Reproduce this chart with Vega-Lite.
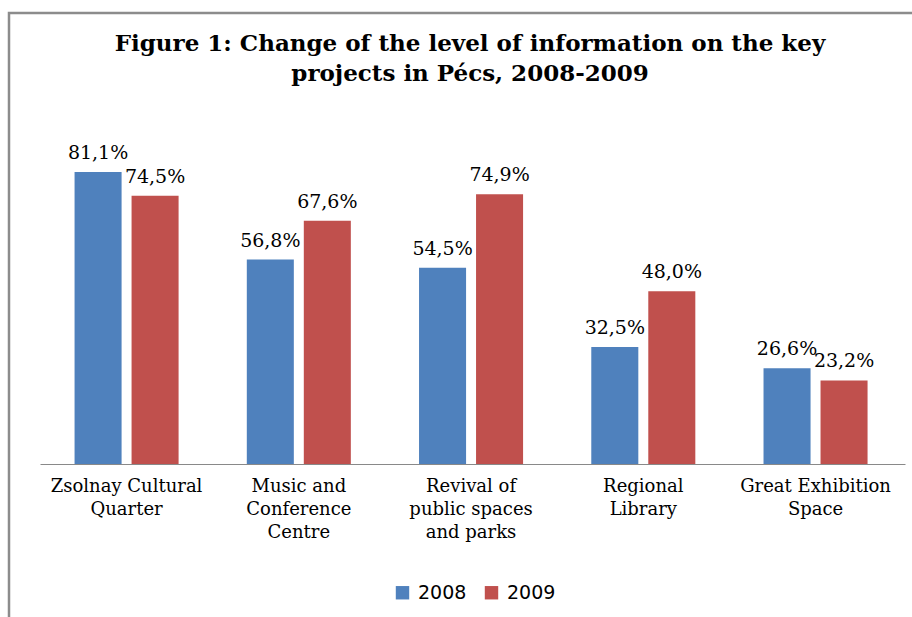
{
  "$schema": "https://vega.github.io/schema/vega-lite/v6.json",
  "autosize": "none",
  "padding": {"left": 9, "top": 13, "right": 0, "bottom": 0},
  "width": 910,
  "height": 610,
  "background": "white",
  "view": {"stroke": "#8c8c8c", "strokeWidth": 2.5, "fill": null},
  "config": {
    "locale": {"number": {"decimal": ",", "thousands": " ", "grouping": [3], "currency": ["", ""]}}
  },
  "title": {
    "text": ["Figure 1: Change of the level of information on the key", "projects in Pécs, 2008-2009"],
    "font": "DejaVu Serif",
    "fontSize": 23,
    "fontWeight": "bold",
    "lineHeight": 30,
    "color": "black",
    "anchor": "middle",
    "frame": "group",
    "offset": -73,
    "dx": 6
  },
  "data": {
    "values": [
      {"project": "Zsolnay Cultural Quarter", "year": "2008", "share": 0.811},
      {"project": "Zsolnay Cultural Quarter", "year": "2009", "share": 0.745},
      {"project": "Music and Conference Centre", "year": "2008", "share": 0.568},
      {"project": "Music and Conference Centre", "year": "2009", "share": 0.676},
      {"project": "Revival of public spaces and parks", "year": "2008", "share": 0.545},
      {"project": "Revival of public spaces and parks", "year": "2009", "share": 0.749},
      {"project": "Regional Library", "year": "2008", "share": 0.325},
      {"project": "Regional Library", "year": "2009", "share": 0.48},
      {"project": "Great Exhibition Space", "year": "2008", "share": 0.266},
      {"project": "Great Exhibition Space", "year": "2009", "share": 0.232}
    ]
  },
  "encoding": {
    "x": {
      "field": "project",
      "type": "nominal",
      "sort": null,
      "scale": {"range": [31, 896], "paddingInner": 0.396, "paddingOuter": 0.209, "align": 0.48},
      "axis": {
        "title": null,
        "orient": "bottom",
        "offset": -159,
        "ticks": false,
        "grid": false,
        "domainColor": "#898989",
        "domainWidth": 1,
        "labelAngle": 0,
        "labelColor": "black",
        "labelFont": "DejaVu Serif",
        "labelFontSize": 18,
        "labelLineHeight": 23,
        "labelPadding": 13,
        "labelBaseline": "top",
        "labelLimit": 0,
        "labelOverlap": false,
        "labelBound": false,
        "labelFlush": false,
        "labelExpr": "datum.value == 'Zsolnay Cultural Quarter' ? ['Zsolnay Cultural','Quarter'] : datum.value == 'Music and Conference Centre' ? ['Music and','Conference','Centre'] : datum.value == 'Revival of public spaces and parks' ? ['Revival of','public spaces','and parks'] : datum.value == 'Regional Library' ? ['Regional','Library'] : ['Great Exhibition','Space']"
      }
    },
    "xOffset": {
      "field": "year",
      "type": "nominal",
      "scale": {"paddingInner": 0.175, "paddingOuter": 0}
    },
    "y": {
      "field": "share",
      "type": "quantitative",
      "scale": {"domain": [-0.4417, 1.2528], "nice": false, "zero": false},
      "axis": null
    }
  },
  "layer": [
    {
      "mark": {"type": "bar"},
      "encoding": {
        "y2": {"datum": 0},
        "color": {
          "field": "year",
          "type": "nominal",
          "scale": {"domain": ["2008", "2009"], "range": ["#4F81BD", "#C0504D"]},
          "legend": {
            "title": null,
            "orient": "none",
            "direction": "horizontal",
            "legendX": 384,
            "legendY": 570,
            "padding": 0,
            "symbolType": "square",
            "symbolSize": 180,
            "symbolStrokeWidth": 0,
            "labelFont": "DejaVu Sans",
            "labelFontSize": 19,
            "labelColor": "black",
            "labelOffset": 6,
            "columnPadding": 15
          }
        }
      }
    },
    {
      "mark": {"type": "text", "baseline": "alphabetic", "align": "center", "dy": -13, "font": "DejaVu Serif", "fontSize": 19, "color": "black"},
      "encoding": {
        "text": {"field": "share", "type": "quantitative", "format": ".1%"}
      }
    }
  ]
}
